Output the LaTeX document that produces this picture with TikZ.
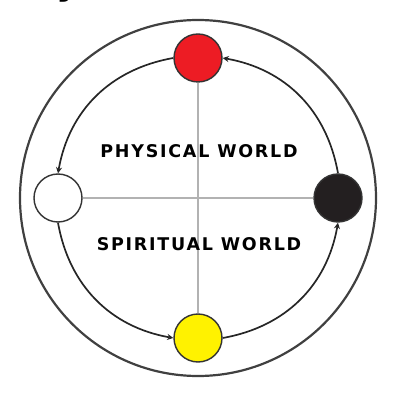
\documentclass[tikz,border=0pt]{standalone}
\usepackage{fontspec}
\newfontfamily\worldfont[LetterSpace=10]{DejaVu Sans Bold}
\definecolor{dotred}{HTML}{ED1C24}
\definecolor{dotyellow}{HTML}{FFF200}
\definecolor{dotblack}{HTML}{231F20}
\begin{document}
\begin{tikzpicture}[>=stealth, x=1pt, y=1pt,
    dot/.style={circle, draw=black!80, line width=1.4pt, minimum size=48pt, inner sep=0pt},
    flow/.style={->, draw=black!85, line width=1.7pt, bend right=35},
    world/.style={font=\worldfont\fontsize{17.5}{17.5}\selectfont}]
    \useasboundingbox (-198,-208) rectangle (216,198);
    % clipped title letter at the top edge
    \node[anchor=base west, inner sep=0pt, font=\worldfont\fontsize{36}{36}\selectfont] (title) at (-142,203) {y};

    \draw[black!75, line width=2.2pt] (0,0) circle (178);

    \node[dot, fill=dotred] (red) at (0,140) {};
    \node[dot, fill=white] (white) at (-140,0) {};
    \node[dot, fill=dotyellow] (yellow) at (0,-140) {};
    \node[dot, fill=dotblack] (black) at (140,0) {};

    \draw[black!30, line width=1.1pt] (red.south) -- (yellow.north);
    \draw[black!30, line width=1.1pt] (white.east) -- (black.west);

    \draw[flow] (red.west) to (white.north);
    \draw[flow] (white.south) to (yellow.west);
    \draw[flow] (yellow.east) to (black.south);
    \draw[flow] (black.north) to (red.east);

    \node[world] (physical) at (1,47) {PHYSICAL WORLD};
    \node[world] (spiritual) at (1,-46) {SPIRITUAL WORLD};
\end{tikzpicture}
\end{document}
